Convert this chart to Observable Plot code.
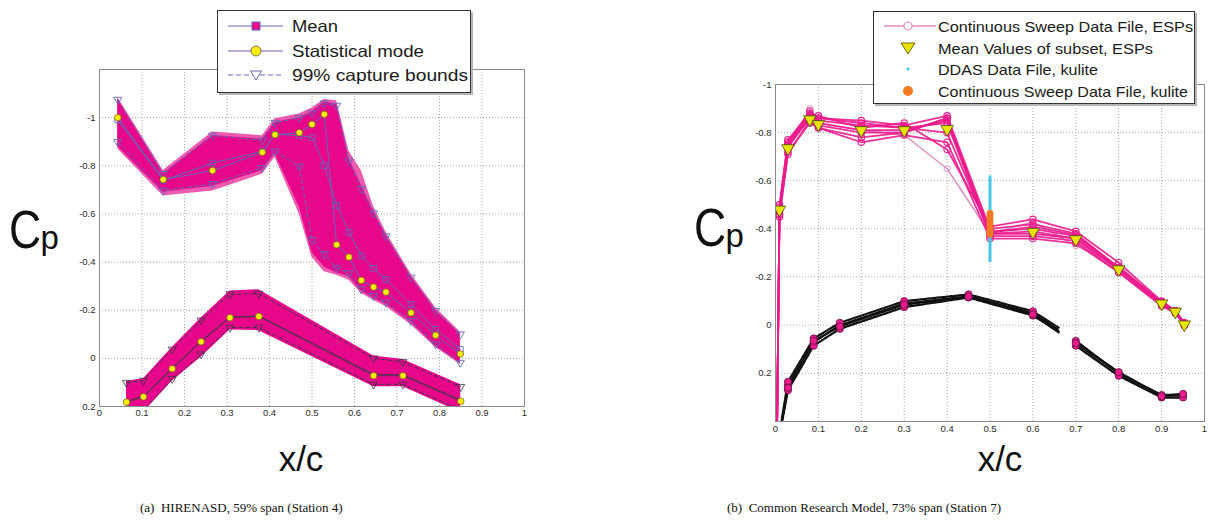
<!DOCTYPE html>
<html><head><meta charset="utf-8">
<script src="https://cdn.jsdelivr.net/npm/d3@7"></script>
<script src="https://cdn.jsdelivr.net/npm/@observablehq/plot@0.6"></script>
<style>
body{margin:0;background:#fff;}
#wrap{position:relative;width:1208px;height:521px;overflow:hidden;background:#fff;font-family:"Liberation Sans",Arial,sans-serif;}
.leg{position:absolute;background:#fff;border:1px solid #333;box-shadow:2px 2px 0 #b5b5b5;z-index:5;}
.leg svg text{font-family:"Liberation Sans",Arial,sans-serif;fill:#1a1a1a;}
.xc{position:absolute;font-family:"Liberation Sans",Arial,sans-serif;color:#111;font-size:35px;line-height:1;transform:translateX(-50%);}
.cap{position:absolute;font-family:"Liberation Serif","Times New Roman",serif;font-size:13px;color:#111;white-space:pre;}
#titles{position:absolute;left:0;top:0;z-index:4;pointer-events:none;}
#titles text{font-family:"Liberation Sans",Arial,sans-serif;fill:#111;}
</style></head>
<body><div id="wrap"></div>
<script>
// ---------- shared ticks ----------
const xTicks = [0,0.1,0.2,0.3,0.4,0.5,0.6,0.7,0.8,0.9,1];
const yTicks = [-1,-0.8,-0.6,-0.4,-0.2,0,0.2];

// ---------- (a) HIRENASD, upper surface ----------
const huX      = [0.043,0.15,0.266,0.383,0.413,0.47,0.50,0.529,0.558,0.587,0.616,0.645,0.674,0.733,0.791,0.849];
const huMode   = [-1.0,-0.743,-0.78,-0.856,-0.929,-0.9375,-0.972,-1.014,-0.472,-0.421,-0.324,-0.296,-0.275,-0.189,-0.096,-0.018];
const huMean   = [-0.99,-0.74,-0.811,-0.86,-0.93,-0.926,-0.917,-0.801,-0.635,-0.524,-0.426,-0.374,-0.328,-0.224,-0.121,-0.0375];
const huBndHi  = [-1.075,-0.767,-0.926,-0.906,-0.979,-1.0,-1.02,-1.06,-1.05,-0.822,-0.704,-0.603,-0.507,-0.336,-0.197,-0.10];
const huBndLo  = [-0.899,-0.697,-0.725,-0.792,-0.86,-0.797,-0.492,-0.433,-0.375,-0.354,-0.287,-0.26,-0.232,-0.156,-0.058,0.018];
const huEnvHi  = [-1.075,-0.767,-0.926,-0.91,-0.98,-1.0,-1.025,-1.065,-1.055,-0.83,-0.72,-0.61,-0.51,-0.34,-0.2,-0.1];
const huEnvLo  = [-0.88,-0.69,-0.715,-0.78,-0.85,-0.63,-0.44,-0.38,-0.355,-0.34,-0.28,-0.25,-0.225,-0.15,-0.05,0.02];
const huOutHi  = [-1.085,-0.78,-0.94,-0.925,-0.995,-1.015,-1.04,-1.075,-1.07,-0.86,-0.78,-0.63,-0.525,-0.35,-0.21,-0.11];
const huOutLo  = [-0.87,-0.675,-0.695,-0.765,-0.835,-0.60,-0.42,-0.36,-0.345,-0.325,-0.27,-0.24,-0.215,-0.14,-0.045,0.025];
// ---------- (a) HIRENASD, lower surface ----------
const hlX      = [0.0635,0.1035,0.171,0.239,0.307,0.375,0.645,0.714,0.850];
const hlMode   = [0.182,0.160,0.043,-0.069,-0.169,-0.174,0.072,0.072,0.178];
const hlMean   = [0.178,0.158,0.04,-0.072,-0.172,-0.176,0.066,0.068,0.172];
const hlBndHi  = [0.101,0.092,-0.037,-0.158,-0.267,-0.269,0.0,0.015,0.118];
const hlBndLo  = [0.24,0.215,0.085,-0.017,-0.128,-0.128,0.108,0.108,0.215];
const hlEnvHi  = [0.095,0.085,-0.045,-0.168,-0.28,-0.285,-0.01,0.005,0.11];
const hlEnvLo  = [0.25,0.225,0.095,-0.005,-0.118,-0.115,0.118,0.118,0.225];

// ---------- (b) CRM, upper surface ESP sweep runs ----------
const espX = [0,0.0093,0.029,0.08,0.1,0.2,0.3,0.4,0.5,0.6,0.7,0.8,0.9,0.932,0.953];
const espRun1 = [1.0,-0.47,-0.74,-0.86,-0.84,-0.81,-0.81,-0.85,-0.39,-0.40,-0.37,-0.24,-0.09,-0.055,-0.005];
const espRun2 = [1.0,-0.45,-0.71,-0.85,-0.82,-0.78,-0.80,-0.86,-0.38,-0.38,-0.36,-0.23,-0.09,-0.06,0.0];
const espRun3 = [1.0,-0.49,-0.77,-0.88,-0.86,-0.85,-0.83,-0.87,-0.40,-0.42,-0.38,-0.24,-0.10,-0.06,-0.01];
const espRun4 = [1.0,-0.48,-0.75,-0.87,-0.85,-0.83,-0.82,-0.84,-0.37,-0.37,-0.35,-0.22,-0.08,-0.05,0.0];
const espRun5 = [1.0,-0.46,-0.72,-0.84,-0.82,-0.76,-0.79,-0.76,-0.36,-0.36,-0.34,-0.22,-0.085,-0.055,-0.005];
const espRun6 = [1.0,-0.50,-0.76,-0.89,-0.86,-0.84,-0.82,-0.80,-0.38,-0.39,-0.36,-0.23,-0.09,-0.055,0.0];
const espRun7 = [1.0,-0.48,-0.76,-0.87,-0.87,-0.82,-0.84,-0.73,-0.41,-0.44,-0.39,-0.26,-0.10,-0.06,-0.01];
const espRun8 = [1.0,-0.46,-0.75,-0.86,-0.83,-0.80,-0.80,-0.86,-0.385,-0.41,-0.375,-0.235,-0.095,-0.058,-0.004];
const espRun9 = [1.0,-0.47,-0.73,-0.90,-0.84,-0.81,-0.79,-0.65,-0.38,-0.43,-0.33,-0.25,-0.09,-0.05,-0.005];
// mean values of subset
const meanX = [0.0093,0.029,0.08,0.1,0.2,0.3,0.4,0.6,0.7,0.8,0.9,0.932,0.953];
const meanY = [-0.48,-0.735,-0.855,-0.835,-0.81,-0.81,-0.815,-0.3875,-0.357,-0.232,-0.09,-0.056,-0.003];
// ---------- (b) CRM, lower surface runs ----------
const lowXa = [0,0.029,0.089,0.15,0.3,0.45,0.6,0.66];
const lowA1 = [0.55,0.25,0.07,0.0,-0.09,-0.12,-0.05,0.02];
const lowA2 = [0.55,0.27,0.085,0.015,-0.075,-0.115,-0.04,0.025];
const lowA3 = [0.55,0.235,0.055,-0.01,-0.10,-0.128,-0.058,0.01];
const lowA4 = [0.55,0.26,0.065,0.005,-0.085,-0.118,-0.045,0.03];
const lowXb = [0.7,0.8,0.9,0.95];
const lowB1 = [0.065,0.2,0.29,0.29];
const lowB2 = [0.085,0.21,0.3,0.3];
const lowB3 = [0.075,0.195,0.295,0.285];
// ---------- (b) kulite at x/c = 0.5 ----------
const ddasX = [0.5];
const ddasLo = [-0.26];
const ddasHi = [-0.62];
const kuliteX = 0.5;
const kuliteY = [-0.465,-0.455,-0.445,-0.435,-0.425,-0.415,-0.405,-0.395,-0.385,-0.378];

// ---------- texts ----------
const legendA = ["Mean","Statistical mode","99% capture bounds"];
const legendB = ["Continuous Sweep Data File, ESPs","Mean Values of subset, ESPs","DDAS Data File, kulite","Continuous Sweep Data File, kulite"];
const captionA = "(a)  HIRENASD, 59% span (Station 4)";
const captionB = "(b)  Common Research Model, 73% span (Station 7)";

// ---------- colours ----------
const MAG = "#e8068a", MAG_LIGHT = "#ee5aae", BLUE = "#6466b8", DARK = "#3a3a4a";
const PINK = "#ec1b8d", PINK_LIGHT = "#dc8cc2";

const wrap = document.getElementById("wrap");
const fmt = d => String(d);
const baseStyle = {fontFamily:"Liberation Sans, Arial, sans-serif", fontSize:"9.5px", color:"#2a2a2a", background:"transparent", overflow:"visible"};

// ====== Plot (a) ======
const upA = huX.map((x,i)=>({x, mode:huMode[i], mean:huMean[i], bHi:huBndHi[i], bLo:huBndLo[i], eHi:huEnvHi[i], eLo:huEnvLo[i], oHi:huOutHi[i], oLo:huOutLo[i]}));
const loA = hlX.map((x,i)=>({x, mode:hlMode[i], mean:hlMean[i], bHi:hlBndHi[i], bLo:hlBndLo[i], eHi:hlEnvHi[i], eLo:hlEnvLo[i]}));

const plotA = Plot.plot({
  width:560, height:450, marginLeft:99, marginRight:36, marginTop:69, marginBottom:44,
  x:{domain:[0,1]}, y:{domain:[0.2,-1.2]},
  style: baseStyle,
  marks:[
    Plot.gridX({ticks:xTicks.slice(1,-1), stroke:"#a8a8a8", strokeOpacity:1, strokeDasharray:"1,2"}),
    Plot.gridY({ticks:yTicks.slice(0,-1), stroke:"#a8a8a8", strokeOpacity:1, strokeDasharray:"1,2"}),
    Plot.areaY(upA, {x:"x", y1:"oLo", y2:"oHi", fill:MAG_LIGHT, clip:true}),
    Plot.areaY(upA, {x:"x", y1:"eLo", y2:"eHi", fill:MAG, clip:true}),
    Plot.areaY(loA, {x:"x", y1:"eLo", y2:"eHi", fill:MAG, clip:true}),
    // upper surface statistics
    Plot.lineY(upA, {x:"x", y:"bHi", stroke:BLUE, strokeWidth:1, strokeDasharray:"4,3", clip:true}),
    Plot.lineY(upA, {x:"x", y:"bLo", stroke:BLUE, strokeWidth:1, strokeDasharray:"4,3", clip:true}),
    Plot.lineY(upA, {x:"x", y:"mean", stroke:BLUE, strokeWidth:1, clip:true}),
    Plot.lineY(upA, {x:"x", y:"mode", stroke:BLUE, strokeWidth:1, clip:true}),
    Plot.dot(upA, {x:"x", y:"bHi", symbol:"triangle", rotate:180, r:3, stroke:BLUE, fill:"none", strokeWidth:0.9, clip:true}),
    Plot.dot(upA, {x:"x", y:"bLo", symbol:"triangle", rotate:180, r:3, stroke:BLUE, fill:"none", strokeWidth:0.9, clip:true}),
    Plot.dot(upA, {x:"x", y:"mean", symbol:"square", r:3.2, stroke:BLUE, fill:"none", strokeWidth:0.9, clip:true}),
    Plot.dot(upA, {x:"x", y:"mode", r:3.3, fill:"#ffee00", stroke:"#6a5a20", strokeWidth:0.7, clip:true}),
    // lower surface statistics
    Plot.lineY(loA, {x:"x", y:"bHi", stroke:DARK, strokeWidth:0.9, strokeDasharray:"4,3", clip:true}),
    Plot.lineY(loA, {x:"x", y:"bLo", stroke:DARK, strokeWidth:0.9, strokeDasharray:"4,3", clip:true}),
    Plot.lineY(loA, {x:"x", y:"mean", stroke:DARK, strokeWidth:0.8, clip:true}),
    Plot.lineY(loA, {x:"x", y:"mode", stroke:DARK, strokeWidth:0.8, clip:true}),
    Plot.dot(loA, {x:"x", y:"bHi", symbol:"triangle", rotate:180, r:3, stroke:DARK, fill:"none", strokeWidth:0.8, clip:true}),
    Plot.dot(loA, {x:"x", y:"bLo", symbol:"triangle", rotate:180, r:3, stroke:DARK, fill:"none", strokeWidth:0.8, clip:true}),
    Plot.dot(loA, {x:"x", y:"mode", r:3.3, fill:"#ffee00", stroke:"#6a5a20", strokeWidth:0.7, clip:true}),
    Plot.frame({stroke:"#8a8a8a"}),
    Plot.axisX({ticks:xTicks, tickSize:0, tickPadding:3, tickFormat:fmt, label:null}),
    Plot.axisY({ticks:yTicks, tickSize:0, tickPadding:4, tickFormat:fmt, label:null})
  ]
});
plotA.style.position = "absolute"; plotA.style.left = "0px"; plotA.style.top = "0px";
wrap.appendChild(plotA);

// ====== Plot (b) ======
const espMain = [espRun1,espRun2,espRun3,espRun4,espRun5,espRun6,espRun7,espRun8];
const espLight = [espRun9];
const toLong = (runs, xs) => runs.flatMap((vals,k)=>xs.map((x,i)=>({run:k, x, y:vals[i]})));
const espData = toLong(espMain, espX);
const espLightData = toLong(espLight, espX);
const lowAData = toLong([lowA1,lowA2,lowA3,lowA4], lowXa);
const lowBData = toLong([lowB1,lowB2,lowB3], lowXb);
const lowMarks = lowAData.filter(d => d.x > 0 && d.x < 0.65).concat(lowBData);
const meanData = meanX.map((x,i)=>({x, y:meanY[i]}));
const ddasData = ddasX.map((x,i)=>({x, lo:ddasLo[i], hi:ddasHi[i]}));
const kulData = kuliteY.map(y=>({x:kuliteX, y}));

const plotB = Plot.plot({
  width:608, height:450, marginLeft:175, marginRight:4, marginTop:84, marginBottom:29,
  x:{domain:[0,1]}, y:{domain:[0.4,-1]},
  style: baseStyle,
  marks:[
    Plot.gridX({ticks:xTicks.slice(1,-1), stroke:"#a8a8a8", strokeOpacity:1, strokeDasharray:"1,2"}),
    Plot.gridY({ticks:yTicks.slice(1), stroke:"#a8a8a8", strokeOpacity:1, strokeDasharray:"1,2"}),
    // lower surface
    Plot.line(lowAData, {x:"x", y:"y", z:"run", stroke:"#111", strokeWidth:2.2, strokeDasharray:"4,1.5", clip:true}),
    Plot.line(lowBData, {x:"x", y:"y", z:"run", stroke:"#111", strokeWidth:2.4, strokeDasharray:"4,1", clip:true}),
    Plot.dot(lowMarks, {x:"x", y:"y", r:3.6, fill:PINK, stroke:"#5a0f3c", strokeWidth:0.8, clip:true}),
    // upper surface ESP
    Plot.line(espLightData, {x:"x", y:"y", z:"run", stroke:PINK_LIGHT, strokeWidth:1.4, clip:true}),
    Plot.dot(espLightData, {x:"x", y:"y", r:3, stroke:PINK_LIGHT, fill:"none", strokeWidth:0.9, clip:true}),
    Plot.line(espData, {x:"x", y:"y", z:"run", stroke:PINK, strokeWidth:1.8, strokeOpacity:0.9, clip:true}),
    Plot.dot(espData, {x:"x", y:"y", r:3.2, stroke:PINK, fill:"none", strokeWidth:1.1, clip:true}),
    // kulite
    Plot.ruleX(ddasData, {x:"x", y1:"lo", y2:"hi", stroke:"#45c6e2", strokeWidth:3}),
    Plot.dot(kulData, {x:"x", y:"y", r:3.4, fill:"#f47a22", stroke:"none"}),
    // mean triangles
    Plot.dot(meanData, {x:"x", y:"y", symbol:"triangle", rotate:180, r:4.6, fill:"#e8e400", stroke:"#4a4a10", strokeWidth:0.8, clip:true}),
    Plot.frame({stroke:"#8a8a8a"}),
    Plot.axisX({ticks:xTicks, tickSize:0, tickPadding:4, tickFormat:fmt, label:null}),
    Plot.axisY({ticks:yTicks, tickSize:0, tickPadding:4, tickFormat:fmt, label:null})
  ]
});
plotB.style.position = "absolute"; plotB.style.left = "600px"; plotB.style.top = "0px";
wrap.appendChild(plotB);

// ====== Legends ======
const legendAWidths = [46,132,176];
const legendBWidths = [255,215,160,250];
function legendBoxA(){
  const d = document.createElement("div");
  d.className = "leg";
  Object.assign(d.style, {left:"217px", top:"10px", width:"252px", height:"81px"});
  const ys = [15,40,64];
  d.innerHTML = `<svg width="252" height="81">
    <line x1="10" x2="65" y1="${ys[0]}" y2="${ys[0]}" stroke="${BLUE}" stroke-width="1.2"/>
    <rect x="34" y="${ys[0]-4}" width="8" height="8" fill="${MAG}" stroke="${BLUE}" stroke-width="1"/>
    <line x1="10" x2="65" y1="${ys[1]}" y2="${ys[1]}" stroke="${BLUE}" stroke-width="1.2"/>
    <circle cx="38" cy="${ys[1]}" r="5" fill="#ffee00" stroke="#555" stroke-width="0.8"/>
    <line x1="10" x2="65" y1="${ys[2]}" y2="${ys[2]}" stroke="${BLUE}" stroke-width="1.2" stroke-dasharray="5,3"/>
    <path d="M32.5,${ys[2]-4} L43.5,${ys[2]-4} L38,${ys[2]+5} Z" fill="#fff" stroke="${BLUE}" stroke-width="1"/>
    ${legendA.map((t,i)=>`<text x="74" y="${ys[i]+6}" font-size="16.5" textLength="${legendAWidths[i]}" lengthAdjust="spacingAndGlyphs">${t}</text>`).join("")}
  </svg>`;
  return d;
}
function legendBoxB(){
  const d = document.createElement("div");
  d.className = "leg";
  Object.assign(d.style, {left:"873px", top:"11px", width:"320px", height:"91px"});
  const ys = [14,36,57,79];
  d.innerHTML = `<svg width="320" height="91">
    <line x1="10" x2="62" y1="${ys[0]}" y2="${ys[0]}" stroke="${PINK_LIGHT}" stroke-width="1.5"/>
    <circle cx="34" cy="${ys[0]}" r="4" fill="#fff" stroke="${PINK_LIGHT}" stroke-width="1.2"/>
    <path d="M27,${ys[1]-5} L41,${ys[1]-5} L34,${ys[1]+6} Z" fill="#e8e400" stroke="#4a4a10" stroke-width="0.8"/>
    <circle cx="34" cy="${ys[2]}" r="1.6" fill="#45c6e2"/>
    <circle cx="34" cy="${ys[3]}" r="5" fill="#f47a22"/>
    ${legendB.map((t,i)=>`<text x="64" y="${ys[i]+5.5}" font-size="15" textLength="${legendBWidths[i]}" lengthAdjust="spacingAndGlyphs">${t}</text>`).join("")}
  </svg>`;
  return d;
}
wrap.appendChild(legendBoxA());
wrap.appendChild(legendBoxB());

// ====== Axis titles (Cp) ======
const NS = "http://www.w3.org/2000/svg";
const titles = document.createElementNS(NS, "svg");
titles.setAttribute("id","titles"); titles.setAttribute("width","1208"); titles.setAttribute("height","521");
function cpLabel(x0, base){
  const g = document.createElementNS(NS,"g");
  g.innerHTML = `<text transform="translate(${x0},${base}) scale(0.84,1)" font-size="53">C</text>
    <text x="${x0+31.5}" y="${base+1}" font-size="33">p</text>`;
  titles.appendChild(g);
}
cpLabel(9, 248);
cpLabel(694, 246);
wrap.appendChild(titles);

function xcLabel(cx){
  const d = document.createElement("div");
  d.className = "xc"; d.textContent = "x/c";
  d.style.left = cx + "px"; d.style.top = "441px";
  return d;
}
wrap.appendChild(xcLabel(301));
wrap.appendChild(xcLabel(1000));

// ====== Captions ======
function caption(t, left){
  const d = document.createElement("div");
  d.className = "cap"; d.textContent = t;
  d.style.left = left + "px"; d.style.top = "500px";
  return d;
}
wrap.appendChild(caption(captionA, 140));
wrap.appendChild(caption(captionB, 727));
</script>
</body></html>
